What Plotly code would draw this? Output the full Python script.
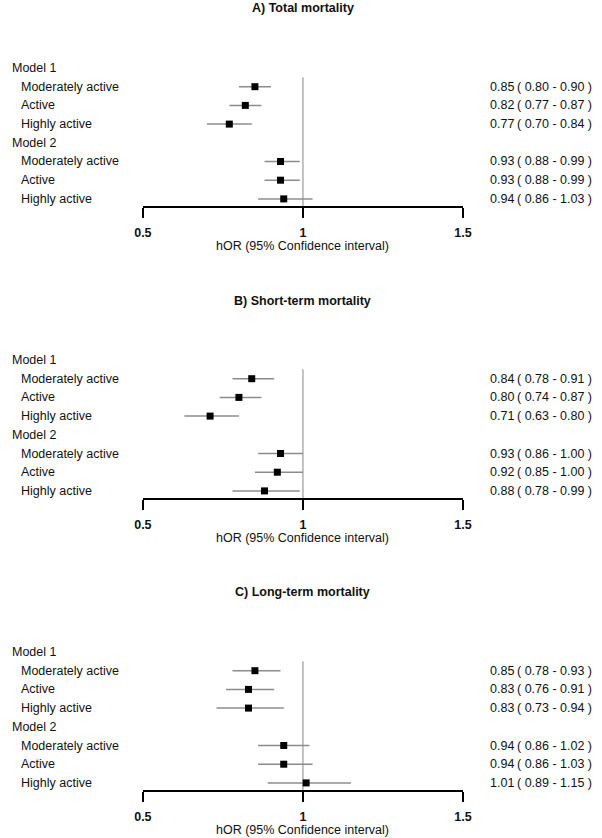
import plotly.graph_objects as go

# ---------------- data ----------------
row_labels = ["Model 1", "Moderately active", "Active", "Highly active",
              "Model 2", "Moderately active", "Active", "Highly active"]
row_is_header = [True, False, False, False, True, False, False, False]
data_rows = [1, 2, 3, 5, 6, 7]

panel_titles = ["A) Total mortality", "B) Short-term mortality", "C) Long-term mortality"]

est_A = [0.85, 0.82, 0.77, 0.93, 0.93, 0.94]
lo_A = [0.80, 0.77, 0.70, 0.88, 0.88, 0.86]
hi_A = [0.90, 0.87, 0.84, 0.99, 0.99, 1.03]

est_B = [0.84, 0.80, 0.71, 0.93, 0.92, 0.88]
lo_B = [0.78, 0.74, 0.63, 0.86, 0.85, 0.78]
hi_B = [0.91, 0.87, 0.80, 1.00, 1.00, 0.99]

est_C = [0.85, 0.83, 0.83, 0.94, 0.94, 1.01]
lo_C = [0.78, 0.76, 0.73, 0.86, 0.86, 0.89]
hi_C = [0.93, 0.91, 0.94, 1.02, 1.03, 1.15]

x_ticks = [0.5, 1, 1.5]
x_tick_labels = ["0.5", "1", "1.5"]
x_title = "hOR (95% Confidence interval)"
ref_value = 1

panels = [(est_A, lo_A, hi_A), (est_B, lo_B, hi_B), (est_C, lo_C, hi_C)]

# ---------------- layout geometry ----------------
W, H = 602, 838
X0, X1 = 138, 468            # pixel span of the x axis (0.5 .. 1.5)
row0_px = [68, 360, 652]     # y pixel of the "Model 1" row
axis_px = [206, 498, 790]    # y pixel of each x-axis line
title_px = [8, 301, 592]
row_h = 18.7
FONT = "Liberation Sans, Arial, sans-serif"
TXT = "#111111"
FS = 12.5

def py(px):
    return 1 - px / H

def pxx(px):
    return px / W

fig = go.Figure()
annotations = []
shapes = []
layout_axes = {}

for i, (est, lo, hi) in enumerate(panels):
    k = "" if i == 0 else str(i + 1)
    xa, ya = "x" + k, "y" + k
    bottom = axis_px[i]
    r_top = -0.5
    r_bot = (bottom - row0_px[i]) / row_h
    top = row0_px[i] + r_top * row_h

    fig.add_trace(go.Scatter(
        x=est, y=data_rows, xaxis=xa, yaxis=ya, mode="markers",
        marker=dict(symbol="square", size=7, color="black"),
        error_x=dict(type="data", symmetric=False,
                     array=[h - e for h, e in zip(hi, est)],
                     arrayminus=[e - l for e, l in zip(est, lo)],
                     color="#8c8c8c", thickness=1.5, width=0),
        showlegend=False, hoverinfo="x+y", cliponaxis=False,
    ))

    layout_axes["xaxis" + k] = dict(
        domain=[pxx(X0), pxx(X1)], range=[0.5, 1.5], anchor=ya,
        showline=True, linecolor="black", linewidth=1.5,
        ticks="outside", ticklen=10, tickwidth=1.5, tickcolor="black",
        tickvals=x_ticks, ticktext=x_tick_labels,
        tickfont=dict(family=FONT, size=FS, color=TXT, weight="bold"),
        ticklabelstandoff=4,
        showgrid=False, zeroline=False, fixedrange=True,
    )
    layout_axes["yaxis" + k] = dict(
        domain=[py(bottom), py(top)], range=[r_bot, r_top], anchor=xa,
        visible=False, showgrid=False, zeroline=False, fixedrange=True,
    )

    shapes.append(dict(type="line", xref=xa, yref=ya, x0=ref_value, x1=ref_value,
                       y0=0.5, y1=r_bot, line=dict(color="#9a9a9a", width=1.2),
                       layer="below"))

    # panel title
    annotations.append(dict(text="<b>" + panel_titles[i] + "</b>", xref="paper", yref="paper",
                            x=pxx(303), y=py(title_px[i]), xanchor="center", yanchor="middle",
                            showarrow=False, font=dict(family=FONT, size=FS, color=TXT)))
    # axis title
    annotations.append(dict(text=x_title, xref="paper", yref="paper",
                            x=pxx(303), y=py(bottom + 40), xanchor="center", yanchor="middle",
                            showarrow=False, font=dict(family=FONT, size=FS, color=TXT)))
    # row labels
    for r, (lab, hdr) in enumerate(zip(row_labels, row_is_header)):
        annotations.append(dict(text=lab, xref="paper", yref=ya, x=pxx(1 if hdr else 10), y=r,
                                xanchor="left", yanchor="middle", showarrow=False,
                                font=dict(family=FONT, size=FS, color=TXT)))
    # right-hand value text
    for r, e, l, h in zip(data_rows, est, lo, hi):
        annotations.append(dict(text=f"{e:.2f}", xref="paper", yref=ya, x=pxx(494), y=r,
                                xanchor="left", yanchor="middle", showarrow=False,
                                font=dict(family=FONT, size=FS, color=TXT)))
        annotations.append(dict(text=f"( {l:.2f} - {h:.2f} )", xref="paper", yref=ya,
                                x=pxx(522), y=r, xanchor="left", yanchor="middle",
                                showarrow=False, font=dict(family=FONT, size=FS, color=TXT)))

fig.update_layout(
    width=W, height=H, margin=dict(l=0, r=0, t=0, b=0),
    paper_bgcolor="white", plot_bgcolor="white",
    annotations=annotations, shapes=shapes, **layout_axes,
)

fig.write_html("out.html", config={"displayModeBar": False})

# remove the browser's default page margin so the figure sits at (0, 0)
with open("out.html", encoding="utf-8") as f:
    html = f.read()
html = html.replace("<head>", "<head><style>html,body{margin:0;padding:0;}</style>", 1)
with open("out.html", "w", encoding="utf-8") as f:
    f.write(html)
